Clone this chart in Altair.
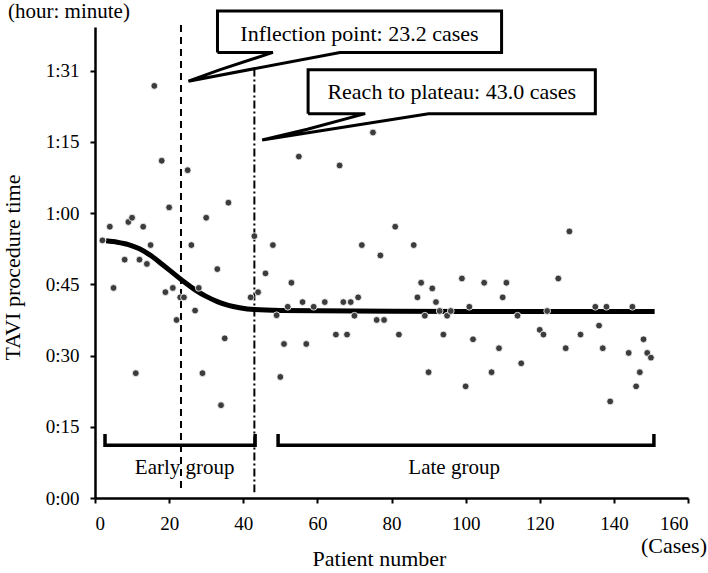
import altair as alt
import pandas as pd

# ---- scatter: patient number vs. TAVI procedure time (minutes) ----
patient = [2, 4, 5, 8, 9, 10, 11, 12, 13, 14, 15, 16, 18, 19, 20, 21, 22, 23, 24, 25,
           26, 27, 28, 29, 30, 33, 34, 35, 36, 42, 43, 44, 46,
           48, 49, 50, 51, 52, 53, 55, 56, 57, 59, 62, 65, 66, 67, 68, 69, 70,
           71, 72, 75, 76, 77, 78, 81, 82, 86, 87, 88, 89, 90, 91, 92, 93, 94, 95,
           96, 99, 100, 101, 102, 105, 107, 109, 110, 111, 114, 115, 120, 121, 122,
           125, 127, 128, 131, 135, 136, 137, 138, 139, 144, 145, 146, 147, 148, 149, 150]
minutes = [54.7, 57.6, 44.6, 50.6, 58.6, 59.5, 26.5, 50.6, 57.6, 49.7, 53.7, 87.5, 71.6, 43.7, 61.7, 44.6, 37.8, 42.6, 42.6, 69.6,
           53.7, 39.8, 44.6, 26.5, 59.5, 48.6, 19.7, 33.9, 62.7, 42.6, 55.6, 43.7, 47.7,
           53.7, 38.8, 25.7, 32.7, 40.6, 45.7, 72.5, 41.6, 32.7, 40.6, 41.6, 34.7, 70.6, 41.6, 34.7, 41.6, 38.7,
           42.6, 53.7, 77.6, 37.8, 51.5, 37.8, 57.6, 34.7, 53.7, 42.6, 45.7, 38.7, 26.7, 44.5, 41.6, 39.7, 34.7, 38.7,
           39.7, 46.6, 23.7, 40.6, 33.7, 45.7, 26.7, 31.8, 42.6, 45.7, 38.7, 28.6, 35.7, 34.7, 39.7,
           46.6, 31.8, 56.6, 34.7, 40.6, 36.6, 31.8, 40.6, 20.5, 30.8, 40.6, 23.7, 26.7, 33.7, 30.8, 29.8]

# ---- fitted learning curve (minutes) ----
curve_x = [3, 6, 9, 12, 15, 18, 21, 24, 27, 30, 33, 36, 39, 43, 50, 70, 100, 151]
curve_y = [54.6, 54.3, 53.8, 52.9, 51.5, 49.7, 47.8, 45.9, 44.2, 42.8, 41.7, 40.9, 40.4, 40.0, 39.8, 39.7, 39.6, 39.6]

# ---- reference lines ----
inflection_case = 23.2
plateau_case = 43.0

# ---- y axis ticks (h:mm) ----
tick_minutes = [0, 15.12, 30.24, 45.36, 60.48, 75.6, 90.72]
tick_labels = ["0:00", "0:15", "0:30", "0:45", "1:00", "1:15", "1:31"]
x_ticks = [0, 20, 40, 60, 80, 100, 120, 140, 160]

# ---- group brackets ----
group_names = ["Early group", "Late group"]
group_start = [2.7, 49.4]
group_end = [43.2, 150.8]
group_label_x = [24.2, 96.9]

FONT = "Liberation Serif"
x_scale = alt.Scale(domain=[0, 160], nice=False, zero=False)
y_scale = alt.Scale(domain=[0, 100], nice=False)

label_expr = "[" + ",".join(f"'{t}'" for t in tick_labels) + "][round(datum.value / 15.12)]"

points = pd.DataFrame({"patient": patient, "minutes": minutes})
curve = pd.DataFrame({"patient": curve_x, "minutes": curve_y})

x_enc = alt.X("patient:Q", scale=x_scale,
              axis=alt.Axis(values=x_ticks, title="Patient number", titleX=284, titleY=67,
                            titleBaseline="alphabetic", titleAlign="center", labelPadding=11,
                            format="d"))
y_enc = alt.Y("minutes:Q", scale=y_scale,
              axis=alt.Axis(values=tick_minutes, labelExpr=label_expr, title="TAVI procedure time",
                            titleAngle=270, titleX=-76, titleY=240, titleBaseline="alphabetic",
                            titleAlign="center", labelPadding=11))

dots = alt.Chart(points).mark_point(filled=True, size=46, color="#3c3c3c", stroke="white",
                                    strokeWidth=0.8, opacity=1).encode(x=x_enc, y=y_enc)

fit = alt.Chart(curve).mark_line(color="black", strokeWidth=5, interpolate="monotone").encode(
    x=alt.X("patient:Q", scale=x_scale), y=alt.Y("minutes:Q", scale=y_scale))

rules = pd.DataFrame({"case": [inflection_case, plateau_case],
                      "top": [100.4, 91.2], "bottom": [1.2, 1.2],
                      "kind": ["inflection", "plateau"]})
rule_infl = alt.Chart(rules[rules.kind == "inflection"]).mark_rule(
    color="black", strokeWidth=2, strokeDash=[7, 5]).encode(
    x=alt.X("case:Q", scale=x_scale), y=alt.Y("top:Q", scale=y_scale), y2="bottom:Q")
rule_plat = alt.Chart(rules[rules.kind == "plateau"]).mark_rule(
    color="black", strokeWidth=2, strokeDash=[8, 3, 2, 3]).encode(
    x=alt.X("case:Q", scale=x_scale), y=alt.Y("top:Q", scale=y_scale), y2="bottom:Q")

# bracket outlines below the scatter
hook_top, hook_bottom = 13.6, 11.2
rows = []
for name, a, b in zip(group_names, group_start, group_end):
    for i, (px, py) in enumerate([(a, hook_top), (a, hook_bottom), (b, hook_bottom), (b, hook_top)]):
        rows.append({"group": name, "seq": i, "patient": px, "minutes": py})
brackets = alt.Chart(pd.DataFrame(rows)).mark_line(
    color="black", strokeWidth=3.5, strokeJoin="miter").encode(
    x=alt.X("patient:Q", scale=x_scale), y=alt.Y("minutes:Q", scale=y_scale),
    detail="group:N", order="seq:Q")

group_text = alt.Chart(pd.DataFrame({"patient": group_label_x, "minutes": [5.2, 5.2],
                                     "label": group_names})).mark_text(
    font=FONT, fontSize=21, color="black", baseline="alphabetic", align="center").encode(
    x=alt.X("patient:Q", scale=x_scale), y=alt.Y("minutes:Q", scale=y_scale), text="label:N")

# callouts: box + pointer
callouts = [
    {"text": f"Inflection point: {inflection_case} cases", "x1": 33.05, "x2": 109.7, "yb": 94.6, "yt": 103.4,
     "attach_l": 48.0, "attach_r": 66.1, "kink": (inflection_case + 10.4, 90.9),
     "tip": (inflection_case + 2.0, 88.5), "tx": 71.35, "ty": 97.1},
    {"text": f"Reach to plateau: {plateau_case} cases", "x1": 57.5, "x2": 135.0, "yb": 81.6, "yt": 90.9,
     "attach_l": 72.9, "attach_r": 90.0, "kink": (plateau_case + 14.3, 78.3),
     "tip": (plateau_case + 2.1, 76.0), "tx": 96.25, "ty": 84.65},
]
outline_rows, box_rows, text_rows = [], [], []
for k, c in enumerate(callouts):
    path = [(c["x1"], c["yb"]), (c["x1"], c["yt"]), (c["x2"], c["yt"]), (c["x2"], c["yb"]),
            (c["attach_r"], c["yb"]), c["tip"], c["kink"], (c["attach_l"], c["yb"]), (c["x1"], c["yb"])]
    for i, (px, py) in enumerate(path):
        outline_rows.append({"callout": k, "seq": i, "patient": px, "minutes": py})
    box_rows.append({"x1": c["x1"], "x2": c["x2"], "yb": c["yb"], "yt": c["yt"]})
    text_rows.append({"patient": c["tx"], "minutes": c["ty"], "label": c["text"]})

boxes = alt.Chart(pd.DataFrame(box_rows)).mark_rect(fill="white").encode(
    x=alt.X("x1:Q", scale=x_scale), x2="x2:Q", y=alt.Y("yb:Q", scale=y_scale), y2="yt:Q")
outlines = alt.Chart(pd.DataFrame(outline_rows)).mark_line(
    color="black", strokeWidth=3, strokeJoin="miter").encode(
    x=alt.X("patient:Q", scale=x_scale), y=alt.Y("minutes:Q", scale=y_scale),
    detail="callout:N", order="seq:Q")
callout_text = alt.Chart(pd.DataFrame(text_rows)).mark_text(
    font=FONT, fontSize=22, color="black", baseline="alphabetic", align="center").encode(
    x=alt.X("patient:Q", scale=x_scale), y=alt.Y("minutes:Q", scale=y_scale), text="label:N")

# unit notes next to the axes
units = pd.DataFrame({"label": ["(hour: minute)", "(Cases)"]})
unit_y = alt.Chart(units.iloc[[0]]).mark_text(
    font=FONT, fontSize=21, color="black", baseline="top", align="left").encode(
    x=alt.value(-87), y=alt.value(-26), text="label:N")
unit_x = alt.Chart(units.iloc[[1]]).mark_text(
    font=FONT, fontSize=22, color="black", baseline="alphabetic", align="right").encode(
    x=alt.value(612), y=alt.value(526), text="label:N")

chart = alt.layer(
    rule_infl, rule_plat, brackets, group_text, fit, dots, boxes, outlines, callout_text, unit_y, unit_x
).properties(
    width=593, height=471,
    autosize=alt.AutoSizeParams(type="none"),
    padding={"left": 95, "top": 27, "right": 20, "bottom": 75},
    background="white",
).configure_view(stroke=None).configure_axis(
    grid=False, labelFont=FONT, labelFontSize=19, labelColor="black",
    titleFont=FONT, titleFontSize=22, titleFontWeight="normal", titleColor="black",
    domainColor="black", domainWidth=2.5, tickColor="black", tickWidth=2, tickSize=5,
)

chart.save("out.html", embed_options={"renderer": "svg", "actions": False})
